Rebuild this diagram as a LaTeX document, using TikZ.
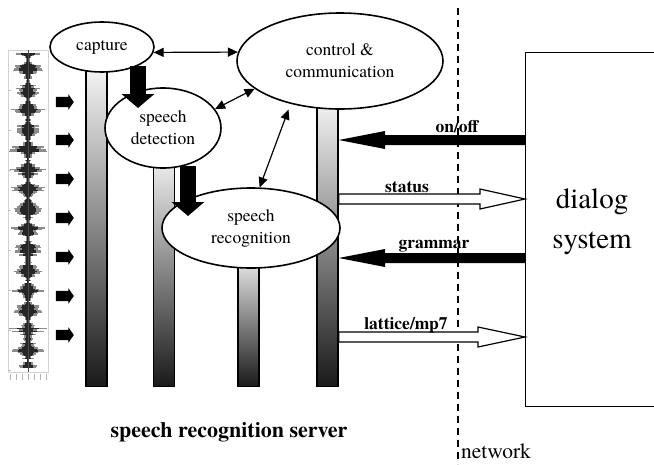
\documentclass[tikz,border=0pt]{standalone}
\usepackage{fontspec}
\setmainfont{texgyretermes}[Extension=.otf, UprightFont=*-regular,
  BoldFont=*-bold, ItalicFont=*-italic, BoldItalicFont=*-bolditalic]
\usetikzlibrary{shapes.geometric,shapes.arrows,arrows.meta}

\tikzset{
  unit/.style={draw, ellipse, fill=white, line width=1.6pt, inner sep=0pt,
    align=center, font=\fontsize{17.5}{22}\selectfont},
  bar/.style={draw, line width=1.4pt, minimum width=21pt, inner sep=0pt,
    top color=gray!5, bottom color=black!90},
  link/.style={line width=1.2pt,
    {Triangle[length=10pt,width=9pt]}-{Triangle[length=10pt,width=9pt]}},
  fat/.style={line width=16pt, -{Triangle[length=14pt,width=32pt]}},
  solidarrow/.style={fill=black},
  openarrow/.style={draw, line width=1.2pt, fill=white},
  feed/.style={single arrow, fill=black, minimum height=18pt, minimum width=15pt,
    inner xsep=0pt, inner ysep=5pt, single arrow head extend=2.5pt,
    single arrow tip angle=110},
  msg/.style={font=\fontsize{17.5}{19}\selectfont\bfseries}
}

\begin{document}
\begin{tikzpicture}[x=1pt,y=-1pt]
  \clip (0,0) rectangle (654,464);
  \fill[white] (0,0) rectangle (654,464);

  % speech signal
  \draw[gray!35, line width=.6pt] (8,50) rectangle (48,372);
  \foreach \y in {90,130,...,370} \draw[gray!50] (8,\y) -- (11,\y);
  \foreach \x in {10,16,...,46} \draw[gray!60] (\x,374) -- (\x,380);
  \pgfmathsetseed{11}
  \foreach \y in {54,55.5,...,368} {
    \pgfmathsetmacro\w{(2+15*abs(sin(\y*9))^3+4*rnd)*(0.4+0.6*rnd)}
    \draw[black!45, line width=1.3pt] (28-\w,\y) -- (28+\w,\y);
    \draw[black!85, line width=1.3pt] (28-0.6*\w,\y) -- (28+0.6*\w,\y);
  }
  \draw[black!70, line width=.6pt] (28,50) -- (28,372);
  \foreach \y [count=\i] in {102,140,179,218,257,296,335}
    \node[feed] (in\i) at (63,\y) {};

  % processing bars
  \node[bar, minimum height=325, anchor=south] (bar1) at (96.5,387) {};
  \node[bar, minimum height=237, anchor=south] (bar2) at (164,387) {};
  \node[bar, minimum height=137, anchor=south] (bar3) at (248.5,387) {};
  \node[bar, minimum height=292, anchor=south] (bar4) at (327.5,387) {};

  % units
  \node[unit, minimum width=104, minimum height=50] (capture) at (102,47) {capture};
  \node[unit, minimum width=116, minimum height=80] (det) at (163,128) {speech\\detection};
  \node[unit, minimum width=206, minimum height=96] (ctrl) at (340,61) {control \&\\communication};
  \node[unit, minimum width=178, minimum height=80] (rec) at (251,228) {speech\\recognition};

  \draw[link] (capture.-6) -- (ctrl.175);
  \draw[link] (det.20) -- (ctrl.-162);
  \draw[link, shorten >=6pt] (rec.78) -- (ctrl.-139);

  \coordinate (dettip) at (138,108);
  \coordinate (rectip) at (188,216);
  \draw[fat] (capture.-27 -| dettip) -- (dettip);
  \draw[fat] (det.-62 -| rectip) -- (rectip);

  % network and dialog system
  \draw[line width=1.5pt, dash pattern=on 7pt off 5pt] (458,8) -- (458,464);
  \node[draw, line width=1.2pt, minimum width=140, minimum height=354,
    anchor=north west] (dialog) at (525,52) {};
  \node[font=\fontsize{29}{40}\selectfont, align=center] (dlgtext) at (592,222) {dialog\\system};

  \fill[solidarrow] (dialog.west |- 0,135) -- (385,135) -- (385,131) -- (bar4.east |- 0,140)
    -- (385,149) -- (385,145) -- (dialog.west |- 0,145) -- cycle;
  \draw[openarrow] (bar4.east |- 0,194) -- (480,194) -- (480,189) -- (dialog.west |- 0,199)
    -- (480,209) -- (480,204) -- (bar4.east |- 0,204) -- cycle;
  \fill[solidarrow] (dialog.west |- 0,253) -- (385,253) -- (385,249) -- (bar4.east |- 0,258)
    -- (385,267) -- (385,263) -- (dialog.west |- 0,263) -- cycle;
  \draw[openarrow] (bar4.east |- 0,332) -- (478,332) -- (478,327) -- (dialog.west |- 0,337)
    -- (478,347) -- (478,342) -- (bar4.east |- 0,342) -- cycle;

  \node[msg] (onoff) at (457,127) {on/off};
  \node[msg] (status) at (407,187) {status};
  \node[msg] (grammar) at (434,246) {grammar};
  \node[msg] (lattice) at (406,325) {lattice/mp7};

  \node[font=\fontsize{22}{24}\selectfont\bfseries] (server) at (229,432) {speech recognition server};
  \node[font=\fontsize{21.5}{24}\selectfont, anchor=base west, inner sep=0pt] (network) at (461,458) {network};
\end{tikzpicture}
\end{document}
